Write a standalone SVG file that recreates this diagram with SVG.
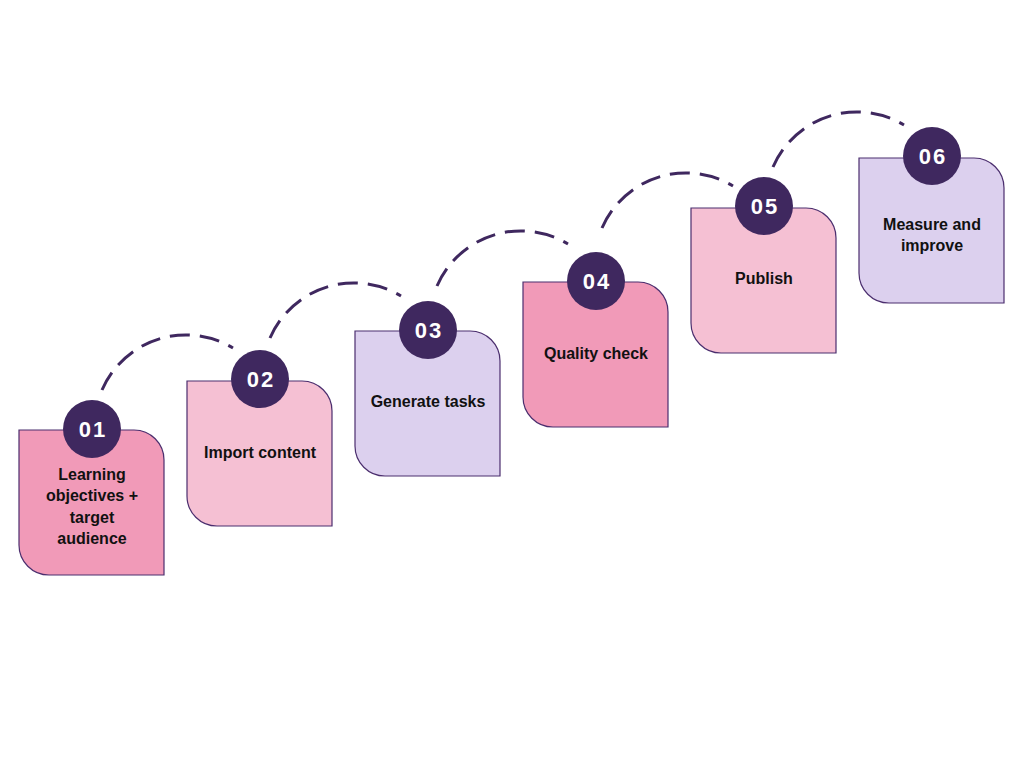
<svg xmlns="http://www.w3.org/2000/svg" xmlns:xlink="http://www.w3.org/1999/xlink" width="1024" height="768" viewBox="0 0 1024 768">
<style>
.box{stroke:#4B2E6E;stroke-width:1.2}
.c1{fill:#F19AB8}
.c2{fill:#F5C0D3}
.c3{fill:#DCD0EE}
.num{fill:#3F285F}
.numt{font-family:"Liberation Sans",Arial,sans-serif;font-weight:bold;font-size:22px;fill:#FFFFFF;text-anchor:middle;letter-spacing:2px}
.lbl{font-family:"Liberation Sans",Arial,sans-serif;font-weight:bold;font-size:16px;fill:#111111;text-anchor:middle}
.arc{fill:none;stroke:#3F285F;stroke-width:3;stroke-dasharray:20 10;stroke-linecap:butt}
</style>
<defs>
<path id="card" d="M0,0 H115 A30,30 0 0 1 145,30 V145 H30 A30,30 0 0 1 0,115 Z"/>
<path id="hop" d="M0,0 A91.4,91.4 0 0 1 131,-42"/>
</defs>
<rect width="1024" height="768" fill="#FFFFFF"/>
<g id="connectors">
<use xlink:href="#hop" class="arc" transform="translate(102,390)"/>
<use xlink:href="#hop" class="arc" transform="translate(270,338)"/>
<use xlink:href="#hop" class="arc" transform="translate(437,286)"/>
<use xlink:href="#hop" class="arc" transform="translate(602,228)"/>
<use xlink:href="#hop" class="arc" transform="translate(773,167)"/>
</g>
<g id="step01">
<use xlink:href="#card" class="box c1" x="19" y="430"/>
<circle class="num" cx="92" cy="429" r="29"/>
<text class="numt" x="93" y="437">01</text>
<text class="lbl" x="92" y="480">Learning</text>
<text class="lbl" x="92" y="501">objectives +</text>
<text class="lbl" x="92" y="523">target</text>
<text class="lbl" x="92" y="544">audience</text>
</g>
<g id="step02">
<use xlink:href="#card" class="box c2" x="187" y="381"/>
<circle class="num" cx="260" cy="379" r="29"/>
<text class="numt" x="261" y="387">02</text>
<text class="lbl" x="260" y="458">Import content</text>
</g>
<g id="step03">
<use xlink:href="#card" class="box c3" x="355" y="331"/>
<circle class="num" cx="428" cy="330" r="29"/>
<text class="numt" x="429" y="338">03</text>
<text class="lbl" x="428" y="407">Generate tasks</text>
</g>
<g id="step04">
<use xlink:href="#card" class="box c1" x="523" y="282"/>
<circle class="num" cx="596" cy="281" r="29"/>
<text class="numt" x="597" y="289">04</text>
<text class="lbl" x="596" y="359">Quality check</text>
</g>
<g id="step05">
<use xlink:href="#card" class="box c2" x="691" y="208"/>
<circle class="num" cx="764" cy="206" r="29"/>
<text class="numt" x="765" y="214">05</text>
<text class="lbl" x="764" y="284">Publish</text>
</g>
<g id="step06">
<use xlink:href="#card" class="box c3" x="859" y="158"/>
<circle class="num" cx="932" cy="156" r="29"/>
<text class="numt" x="933" y="164">06</text>
<text class="lbl" x="932" y="230">Measure and</text>
<text class="lbl" x="932" y="251">improve</text>
</g>
</svg>
